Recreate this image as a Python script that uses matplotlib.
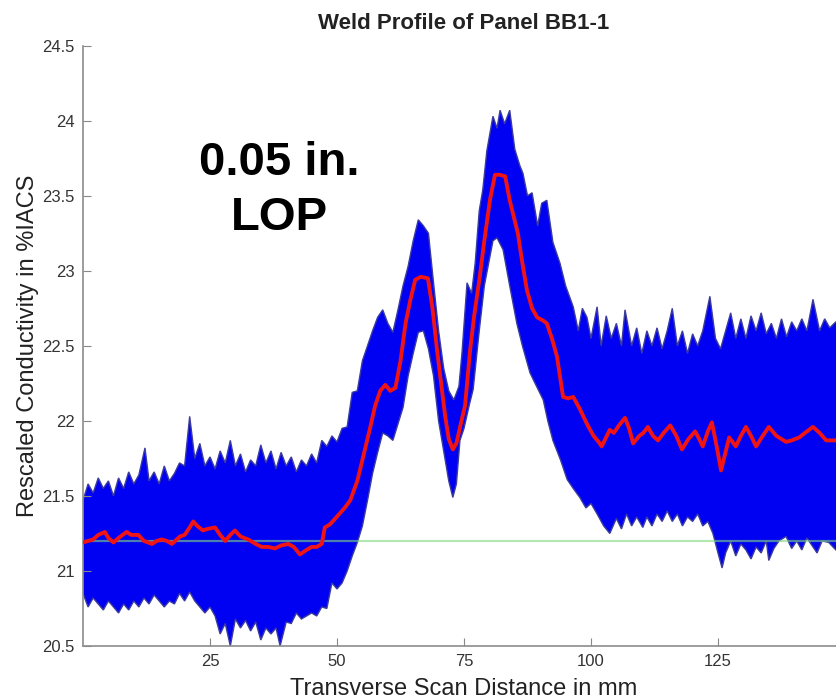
import numpy as np
import matplotlib.pyplot as plt

plt.rcParams['font.family'] = ['Liberation Sans', 'DejaVu Sans']

# mean profile (red)
mean_x = [0, 2, 3, 4.3, 5, 6, 7, 8.6, 9.5, 10.9, 12, 13.6, 14.5, 15.5, 16.5, 17.5, 19.1, 20, 21,
          21.7, 22.5, 23.6, 24.5, 26, 27, 28, 29, 29.9, 31, 32.5, 34, 35.2, 36.5, 37.8, 39, 40.4,
          41.5, 42.7, 44, 45, 46, 47, 47.6, 48.6, 50.2, 51.5, 52.6, 54, 55, 56.5, 57.5, 58.5,
          59.5, 60.5, 61.5, 62.5, 63.5, 64.4, 65.4, 66.5, 67.9, 68.8, 69.7, 70.5, 71.3, 72, 72.8,
          73.5, 74.5, 75.2, 76.2, 77, 78.1, 79, 80.1, 81.1, 82, 83.1, 84, 85.6, 86.5, 87.4, 88.4,
          89.4, 90.5, 91.3, 92.3, 93.3, 94.5, 95.5, 96.5, 97.8, 99.2, 100.5, 101.5, 102.1, 103.7,
          104.5, 105.5, 106.7, 107.5, 108.3, 109.5, 110.3, 111.2, 112.2, 113.2, 114.3, 115.6,
          116.8, 117.9, 119.2, 120.5, 121.3, 122, 123, 123.8, 124.8, 125.6, 126.4, 127.2, 128.5,
          129.5, 130.5, 131.5, 132.5, 133.8, 135, 136.5, 138.4, 139.5, 141, 142.5, 143.7, 145,
          146.3, 148.2]
mean_y = [21.19, 21.21, 21.24, 21.26, 21.22, 21.19, 21.22, 21.26, 21.24, 21.24, 21.2, 21.18, 21.2,
          21.21, 21.2, 21.18, 21.23, 21.24, 21.29, 21.33, 21.3, 21.27, 21.28, 21.29, 21.24, 21.2,
          21.24, 21.27, 21.23, 21.21, 21.18, 21.16, 21.16, 21.15, 21.17, 21.18, 21.16, 21.11,
          21.14, 21.16, 21.16, 21.18, 21.29, 21.31, 21.37, 21.42, 21.47, 21.6, 21.74, 21.95, 22.1,
          22.2, 22.24, 22.2, 22.22, 22.4, 22.65, 22.8, 22.94, 22.96, 22.95, 22.75, 22.47, 22.25,
          22.03, 21.88, 21.81, 21.85, 22.0, 22.1, 22.47, 22.7, 22.96, 23.2, 23.47, 23.64, 23.64,
          23.63, 23.47, 23.25, 23.05, 22.87, 22.75, 22.69, 22.67, 22.65, 22.55, 22.43, 22.16,
          22.15, 22.16, 22.08, 21.98, 21.9, 21.86, 21.83, 21.94, 21.92, 21.97, 22.02, 21.95,
          21.85, 21.9, 21.92, 21.96, 21.9, 21.87, 21.92, 21.97, 21.9, 21.81, 21.88, 21.93, 21.88,
          21.83, 21.93, 21.99, 21.82, 21.67, 21.78, 21.89, 21.83, 21.9, 21.96, 21.9, 21.83, 21.9,
          21.96, 21.9, 21.86, 21.87, 21.89, 21.93, 21.96, 21.92, 21.87, 21.87]

# upper edge of the scan traces (blue band)
upper_x = [0, 1, 2, 3, 4, 5, 6, 7, 8, 9, 10, 11, 12.2, 13, 14, 15, 16, 17, 18, 19, 20, 21, 22, 23,
           24, 25, 26, 27, 28, 29, 30, 31, 32, 33, 34, 35, 36, 37, 38, 39, 40, 41, 42, 43, 44, 45,
           46, 47, 48, 49, 50, 51, 52, 53, 54, 55, 56, 57, 58, 59, 60, 61, 62, 63, 64, 65, 66, 67,
           68, 69, 70, 71, 72, 73, 74, 74.6, 75.6, 76.5, 77.2, 78, 78.7, 79.5, 80.7, 81.5, 82.1,
           83, 84, 85, 86, 86.6, 87.5, 88.4, 89.5, 90.3, 91.3, 92.5, 93.9, 95, 96.5, 97.5, 98.3,
           99.2, 100, 101.2, 102, 103, 104, 105, 106, 106.7, 108, 109, 110, 111, 112, 113, 114,
           115, 116, 117, 118, 119, 120, 121, 122, 123.4, 124.5, 125.5, 126.5, 127.5, 128.5,
           129.5, 130.5, 131.5, 132.5, 133.5, 134.5, 135.5, 136.5, 137.5, 138.5, 139.5, 140.5,
           141.5, 142.5, 143.7, 145, 146, 147, 148.2, 150]
upper_y = [21.47, 21.58, 21.52, 21.62, 21.55, 21.6, 21.5, 21.62, 21.55, 21.66, 21.58, 21.64, 21.82,
           21.6, 21.66, 21.58, 21.7, 21.6, 21.65, 21.72, 21.7, 22.03, 21.75, 21.85, 21.7, 21.76,
           21.68, 21.8, 21.72, 21.87, 21.7, 21.78, 21.66, 21.74, 21.7, 21.84, 21.72, 21.8, 21.68,
           21.79, 21.7, 21.76, 21.66, 21.74, 21.7, 21.78, 21.72, 21.87, 21.83, 21.9, 21.86, 21.95,
           21.96, 22.19, 22.2, 22.4, 22.5, 22.6, 22.69, 22.74, 22.65, 22.59, 22.74, 22.9, 23.03,
           23.2, 23.34, 23.3, 23.25, 22.92, 22.6, 22.35, 22.2, 22.14, 22.23, 22.45, 22.92, 22.85,
           23.05, 23.4, 23.54, 23.8, 24.03, 23.95, 24.07, 23.98, 24.07, 23.81, 23.7, 23.65, 23.5,
           23.52, 23.3, 23.45, 23.47, 23.19, 23.05, 22.9, 22.76, 22.6, 22.75, 22.69, 22.55, 22.76,
           22.5, 22.7, 22.55, 22.65, 22.5, 22.74, 22.5, 22.62, 22.45, 22.6, 22.5, 22.62, 22.48,
           22.6, 22.75, 22.5, 22.6, 22.45, 22.58, 22.5, 22.6, 22.83, 22.55, 22.48, 22.6, 22.72,
           22.55, 22.68, 22.55, 22.7, 22.6, 22.72, 22.58, 22.65, 22.55, 22.68, 22.56, 22.66, 22.6,
           22.68, 22.6, 22.81, 22.6, 22.68, 22.62, 22.66, 22.6]

# lower edge of the scan traces
lower_x = [0, 1, 2, 3, 4, 5, 6, 7, 8, 9, 10, 11, 12, 13, 14, 15, 16, 17, 18, 19, 20, 21, 22, 23,
           24, 25, 26, 27, 28, 29, 30, 31, 32, 33, 34, 35, 36, 37, 38, 38.8, 40, 41, 42, 43, 44,
           45, 46, 47, 48, 49, 50, 51, 52, 53, 54, 55, 56, 57, 58, 59, 60, 61, 62, 63, 64, 65, 66,
           67, 68, 69, 70, 71, 72, 72.8, 73.5, 74.2, 75, 76, 76.8, 78, 79, 80.7, 81.5, 82.7, 84,
           85.4, 86.5, 88, 89, 90.6, 91.5, 92.5, 94, 95.3, 96.5, 97.8, 99, 100, 101.2, 102.5,
           103.7, 105, 106, 107, 108, 109, 110.2, 111, 112, 113, 114, 115, 116, 117, 118, 119,
           120, 121, 122, 123, 124, 125, 125.8, 126.5, 127.5, 128.5, 129.5, 130.5, 131.5, 132.5,
           133.5, 134.5, 135, 136, 137, 138.4, 139.5, 140.5, 141.5, 142.5, 143.5, 144.5, 145.5,
           146.8, 148.2, 150]
lower_y = [20.85, 20.76, 20.82, 20.78, 20.74, 20.8, 20.76, 20.72, 20.78, 20.74, 20.8, 20.76, 20.82,
           20.78, 20.84, 20.8, 20.76, 20.8, 20.78, 20.85, 20.8, 20.86, 20.8, 20.76, 20.72, 20.76,
           20.7, 20.58, 20.65, 20.5, 20.68, 20.62, 20.67, 20.6, 20.66, 20.54, 20.62, 20.58, 20.62,
           20.5, 20.66, 20.65, 20.72, 20.68, 20.7, 20.72, 20.7, 20.76, 20.75, 20.92, 20.88, 20.92,
           21.0, 21.1, 21.19, 21.3, 21.47, 21.65, 21.79, 21.92, 21.9, 21.87, 21.98, 22.09, 22.3,
           22.45, 22.59, 22.6, 22.48, 22.3, 22.0, 21.8, 21.6, 21.49, 21.58, 21.87, 21.95, 22.1,
           22.21, 22.6, 22.9, 23.2, 23.22, 23.14, 22.9, 22.65, 22.5, 22.32, 22.25, 22.14, 22.0,
           21.87, 21.74, 21.61, 21.55, 21.49, 21.42, 21.45, 21.38, 21.3, 21.25, 21.35, 21.28,
           21.38, 21.3, 21.36, 21.29, 21.36, 21.3, 21.38, 21.33, 21.4, 21.33, 21.38, 21.3, 21.36,
           21.33, 21.38, 21.3, 21.33, 21.25, 21.12, 21.02, 21.12, 21.2, 21.1, 21.18, 21.14, 21.08,
           21.16, 21.12, 21.2, 21.07, 21.15, 21.2, 21.23, 21.15, 21.2, 21.14, 21.22, 21.17, 21.12,
           21.2, 21.19, 21.14, 21.16]

baseline = 21.2
yticks = [20.5, 21, 21.5, 22, 22.5, 23, 23.5, 24, 24.5]
ytick_labels = ['20.5', '21', '21.5', '22', '22.5', '23', '23.5', '24', '24.5']
xticks = [25, 50, 75, 100, 125]

fig = plt.figure(figsize=(8.36, 7.0), dpi=100)
ax = fig.add_axes([83 / 836, 54 / 700, 762 / 836, 600.3 / 700])

band_x = np.r_[upper_x, lower_x[::-1]]
band_y = np.r_[upper_y, lower_y[::-1]]
ax.fill(band_x, band_y, facecolor='#0000f2', edgecolor='#3b3ba0', lw=1.0, zorder=1)
ax.axhline(baseline, color='#7fd87f', lw=1.6, alpha=0.6, zorder=2)
ax.plot(mean_x, mean_y, color='#f01414', lw=2.8, zorder=3)

ax.set_xlim(0, 150)
ax.set_ylim(20.5, 24.5)
ax.set_xticks(xticks)
ax.set_yticks(yticks)
ax.set_yticklabels(ytick_labels)
ax.tick_params(direction='in', length=6, width=0.8, color='#888888', labelsize=12,
               labelcolor='#333333', pad=6)
for s in ['top', 'right']:
    ax.spines[s].set_visible(False)
for s in ['left', 'bottom']:
    ax.spines[s].set_color('#8c8c8c')
    ax.spines[s].set_linewidth(1.2)

ax.set_xlabel('Transverse Scan Distance in mm', fontsize=17, color='#222222', labelpad=6)
ax.set_ylabel('Rescaled Conductivity in %IACS', fontsize=17, color='#222222', labelpad=2)
ax.set_title('Weld Profile of Panel BB1-1', fontsize=16, fontweight='bold', color='#222222', pad=12)

fig.text(279 / 836, 1 - 175 / 700, '0.05 in.', fontsize=34, fontweight='bold', ha='center',
         va='baseline')
fig.text(279.5 / 836, 1 - 230 / 700, 'LOP', fontsize=34, fontweight='bold', ha='center',
         va='baseline')

plt.savefig('out.png', dpi=100)
